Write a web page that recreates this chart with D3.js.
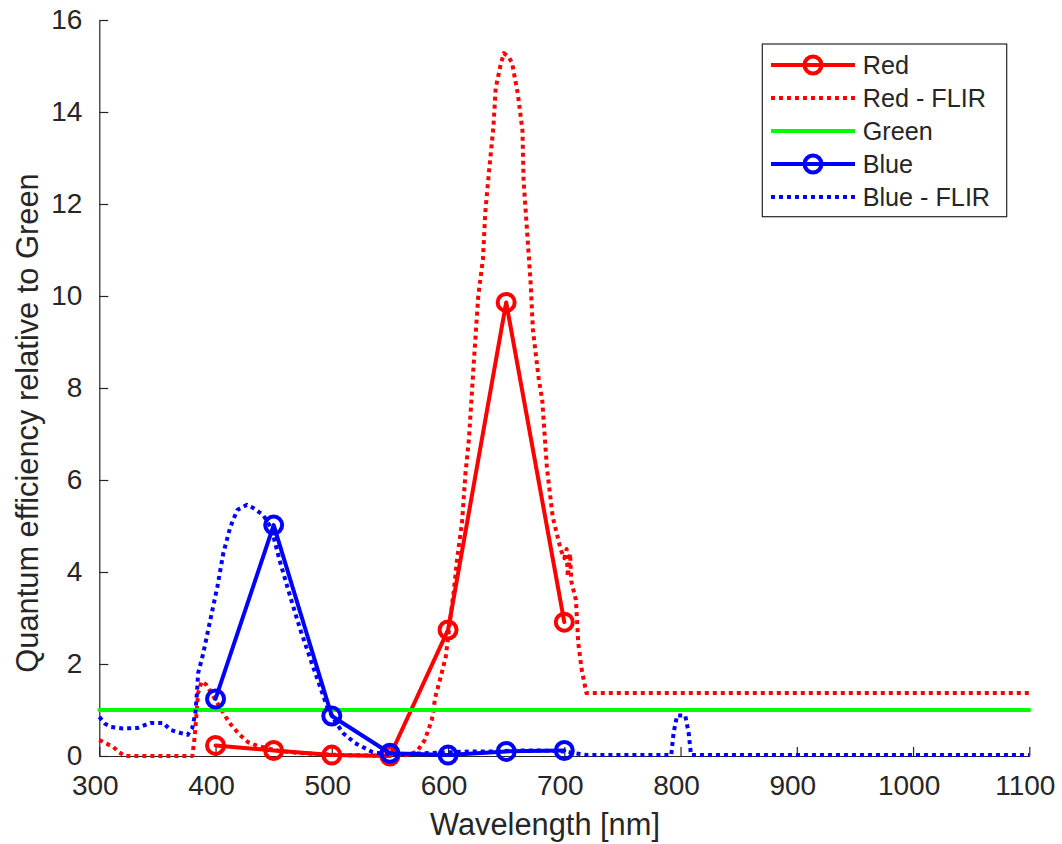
<!DOCTYPE html>
<html><head><meta charset="utf-8">
<script src="https://cdn.jsdelivr.net/npm/d3@7"></script>
<style>body{margin:0;background:#fff}svg{display:block}text{font-family:"Liberation Sans",Arial,sans-serif;fill:#262626}</style>
</head><body><svg id="c" width="1062" height="844"></svg>
<script>
const xTicks = [300,400,500,600,700,800,900,1000,1100];
const yTicks = [0,2,4,6,8,10,12,14,16];
const sampleX = [400,450,500,550,600,650,700];
const redY  = [0.23,0.12,0.02,0.0,2.74,9.86,2.91];
const blueY = [1.24,5.02,0.87,0.06,0.02,0.10,0.12];
const greenX = [300,1100];
const greenY = [1,1];
const redFlirX = [300,305,312,317,322,380,382,385,388,392,398,404,412,420,428,436,445,455,470,490,510,540,565,573,580,586,589,593,598,602,605,608,612,615,618,622,626,630,632,634,636,639,641,645,648,652,655,660,664,665,668,671,673,678,681,685,690,697,700,702,703,705,706,710,712,715,719,1100];
const redFlirY = [0.35,0.28,0.2,0.08,0.0,0.0,0.4,1.37,1.62,1.55,1.3,1.05,0.72,0.48,0.3,0.22,0.16,0.11,0.07,0.04,0.02,0.01,0.02,0.09,0.35,0.78,1.28,1.65,2.15,3.0,3.6,4.33,5.07,6.15,6.9,8.5,10.0,10.8,11.8,12.37,12.9,13.67,14.52,15.0,15.28,15.2,15.07,14.4,13.6,12.5,11.4,10.3,9.26,8.2,7.74,6.28,5.2,4.48,4.3,4.5,3.9,4.4,3.8,3.39,2.46,1.87,1.37,1.37];
const blueFlirX = [300,305,310,320,333,344,355,361,370,376,380,382.6,384,385,389.5,395.5,401.5,406.7,412.7,418.7,427,432.5,441,448,455.7,464.3,473,484,496,503,509.6,520,534.6,545,560,580,600,620,640,660,680,700,712,720,792,794,797,804,807,809,1100];
const blueFlirY = [0.85,0.7,0.63,0.6,0.61,0.72,0.72,0.57,0.5,0.46,0.61,0.93,1.37,1.8,2.24,2.96,3.67,4.41,4.98,5.35,5.46,5.39,5.24,4.95,4.2,3.46,2.74,1.93,1.07,0.75,0.5,0.28,0.09,0.04,0.04,0.06,0.08,0.1,0.1,0.12,0.12,0.1,0.05,0.02,0.02,0.5,0.88,0.88,0.5,0.02,0.02];
const legendLabels = ["Red","Red - FLIR","Green","Blue","Blue - FLIR"];
const xLabel = "Wavelength [nm]";
const yLabel = "Quantum efficiency relative to Green";

const RED="#ff0000", GREEN="#00ff00", BLUE="#0000ff", AX="#262626";
const svg = d3.select("#c");
const x = d3.scaleLinear().domain([300,1100]).range([99.3,1029.3]);
const y = d3.scaleLinear().domain([0,16]).range([756,20]);
const line = d3.line().x(d=>x(d[0])).y(d=>y(d[1]));
const zip = (a,b)=>a.map((v,i)=>[v,b[i]]);

// axes
const gx = svg.append("g").attr("transform","translate(0,756)")
  .call(d3.axisBottom(x).tickValues(xTicks).tickFormat(d3.format("d")).tickSizeInner(-9).tickSizeOuter(0).tickPadding(19));
const gy = svg.append("g").attr("transform","translate(99.3,0)")
  .call(d3.axisLeft(y).tickValues(yTicks).tickFormat(d3.format("d")).tickSizeInner(-9).tickSizeOuter(0).tickPadding(17));
[gx,gy].forEach(g=>{
  g.select(".domain").attr("stroke",AX).attr("stroke-width",1.2);
  g.selectAll(".tick line").attr("stroke",AX).attr("stroke-width",1.2);
  g.selectAll(".tick text").attr("font-size",28).attr("font-family","Liberation Sans, Arial, sans-serif").attr("fill",AX);
});
gx.selectAll(".tick text").attr("dx",-4.5).attr("dy","0.71em");

// series
const plotLine=(data,color,dash)=>svg.append("path").datum(data).attr("d",line)
  .attr("fill","none").attr("stroke",color).attr("stroke-width",4)
  .attr("stroke-dasharray",dash||null).attr("stroke-linejoin","round").attr("stroke-linecap",dash?"butt":"round");
const markers=(data,color)=>svg.append("g").selectAll("circle").data(data).join("circle")
  .attr("cx",d=>x(d[0])).attr("cy",d=>y(d[1])).attr("r",8.5)
  .attr("fill","none").attr("stroke",color).attr("stroke-width",4);

plotLine(zip(sampleX,redY),RED); markers(zip(sampleX,redY),RED);
plotLine(zip(redFlirX,redFlirY),RED,"4,4");
plotLine(zip(greenX,greenY),GREEN);
plotLine(zip(sampleX,blueY),BLUE); markers(zip(sampleX,blueY),BLUE);
plotLine(zip(blueFlirX,blueFlirY),BLUE,"4,4");

// labels
svg.append("text").attr("x",545).attr("y",835).attr("text-anchor","middle").attr("font-size",30.8).text(xLabel);
svg.append("text").attr("transform","translate(27,423) rotate(-90)").attr("text-anchor","middle")
  .attr("dy","0.35em").attr("font-size",30.8).text(yLabel);

// legend
const lg = svg.append("g");
lg.append("rect").attr("x",762.3).attr("y",44).attr("width",244.4).attr("height",172.7)
  .attr("fill","#fff").attr("stroke",AX).attr("stroke-width",1.2);
const styles=[{c:RED,d:null,m:true},{c:RED,d:"4,4"},{c:GREEN,d:null},{c:BLUE,d:null,m:true},{c:BLUE,d:"4,4"}];
const rowY = d3.scaleLinear().domain([0,4]).range([65,197]);
legendLabels.forEach((t,i)=>{
  const s=styles[i], yy=rowY(i);
  lg.append("line").attr("x1",771).attr("x2",855).attr("y1",yy).attr("y2",yy)
    .attr("stroke",s.c).attr("stroke-width",4).attr("stroke-dasharray",s.d);
  if(s.m) lg.append("circle").attr("cx",813).attr("cy",yy).attr("r",8.5).attr("fill","none").attr("stroke",s.c).attr("stroke-width",4);
  lg.append("text").attr("x",862.7).attr("y",yy).attr("dy","0.36em").attr("font-size",25.2).text(t);
});
</script></body></html>
